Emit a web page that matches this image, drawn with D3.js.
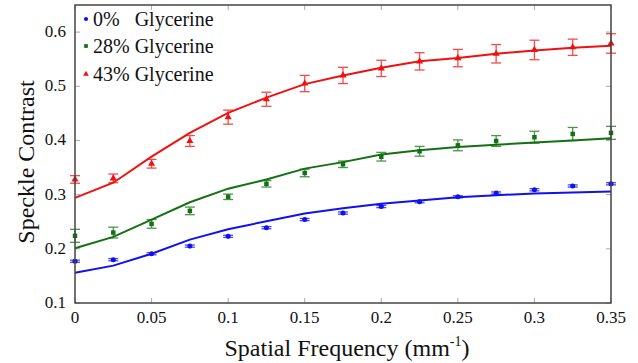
<!DOCTYPE html>
<html><head><meta charset="utf-8">
<script src="https://cdn.jsdelivr.net/npm/d3@7"></script>
<style>svg text, svg tspan { font-family: "Times New Roman", Tinos, "Liberation Serif", serif !important; }</style>
</head><body style="margin:0">
<svg id="c" width="638" height="363"></svg>
<script>
const freqs = [0,0.025,0.05,0.075,0.1,0.125,0.15,0.175,0.2,0.225,0.25,0.275,0.3,0.325,0.35];
const xTicks = [0,0.05,0.1,0.15,0.2,0.25,0.3,0.35];
const yTicks = [0.1,0.2,0.3,0.4,0.5,0.6];
const seriesNames = ["0%\u00a0\u00a0 Glycerine","28% Glycerine","43% Glycerine"];
const seriesColors = ["#1010f0","#137013","#f01010"];
const blueMeas = [0.177,0.180,0.191,0.205,0.223,0.239,0.254,0.266,0.278,0.287,0.296,0.303,0.309,0.316,0.320];
const blueErr  = [0.002,0.002,0.002,0.002,0.002,0.002,0.002,0.002,0.002,0.002,0.002,0.002,0.002,0.002,0.002];
const blueFit  = [0.156,0.169,0.191,0.217,0.236,0.251,0.265,0.275,0.283,0.289,0.295,0.299,0.302,0.304,0.306];
const greenMeas = [0.224,0.230,0.246,0.270,0.296,0.320,0.340,0.356,0.370,0.380,0.391,0.399,0.406,0.412,0.414];
const greenErr  = [0.012,0.010,0.008,0.007,0.005,0.006,0.007,0.006,0.008,0.009,0.010,0.010,0.011,0.012,0.012];
const greenFit  = [0.201,0.222,0.254,0.286,0.311,0.328,0.348,0.360,0.374,0.382,0.388,0.392,0.396,0.400,0.404];
const redMeas = [0.328,0.330,0.357,0.399,0.443,0.476,0.505,0.520,0.533,0.546,0.552,0.560,0.567,0.572,0.579];
const redErr  = [0.007,0.008,0.008,0.010,0.013,0.013,0.015,0.015,0.015,0.016,0.016,0.017,0.018,0.015,0.018];
const redFit  = [0.294,0.322,0.370,0.414,0.451,0.479,0.504,0.520,0.534,0.546,0.552,0.560,0.566,0.571,0.575];

const svg = d3.select("#c");
const L=75,R=611,T=5,B=303;
const x = d3.scaleLinear().domain([0,0.35]).range([L,R]);
const y = d3.scaleLinear().domain([0.1,0.65]).range([B,T]);
function txt(sel){ return sel.attr("font-family","Times New Roman").attr("fill","#111"); }

// ticks inside (gray)
const tg = svg.append("g").attr("stroke","#aaa").attr("stroke-width",1);
xTicks.forEach(t=>{
  tg.append("line").attr("x1",x(t)).attr("x2",x(t)).attr("y1",B).attr("y2",B-5);
  tg.append("line").attr("x1",x(t)).attr("x2",x(t)).attr("y1",T).attr("y2",T+5);
});
yTicks.forEach(t=>{
  tg.append("line").attr("x1",L).attr("x2",L+5).attr("y1",y(t)).attr("y2",y(t));
  tg.append("line").attr("x1",R).attr("x2",R-5).attr("y1",y(t)).attr("y2",y(t));
});

// tick labels
xTicks.forEach(d=>{
  txt(svg.append("text")).attr("x",x(d)).attr("y",B+20).attr("text-anchor","middle").attr("font-size",17).text(d3.format("~g")(d));
});
yTicks.forEach(d=>{
  txt(svg.append("text")).attr("x",L-9).attr("y",y(d)+5).attr("text-anchor","end").attr("font-size",17).text(d3.format(".1f")(d));
});

// axis titles
txt(svg.append("text")).attr("transform",`translate(34,${(T+B)/2+8}) rotate(-90)`).attr("text-anchor","middle")
  .attr("font-size",24).text("Speckle Contrast");
const xt = txt(svg.append("text")).attr("x",(L+R)/2+4).attr("y",356).attr("text-anchor","middle").attr("font-size",24);
xt.append("tspan").text("Spatial Frequency (mm");
xt.append("tspan").attr("font-size",14).attr("dy",-10).text("-1");
xt.append("tspan").attr("dy",10).text(")");

const series = [
  {meas:blueMeas, err:blueErr, fit:blueFit, sym:d3.symbolCircle, size:20, lsize:14},
  {meas:greenMeas, err:greenErr, fit:greenFit, sym:d3.symbolSquare, size:20, lsize:14},
  {meas:redMeas, err:redErr, fit:redFit, sym:d3.symbolTriangle, size:22, lsize:14}
];
const line = d3.line().x((d,i)=>x(freqs[i])).y(d=>y(d));
series.forEach((s,k)=>{
  const col = seriesColors[k];
  const g = svg.append("g");
  g.append("path").datum(s.fit).attr("d",line).attr("fill","none").attr("stroke",col).attr("stroke-width",2);
  const eg = g.append("g").attr("stroke",col).attr("stroke-width",1.3).attr("opacity",0.75);
  s.meas.forEach((v,i)=>{
    const cx=x(freqs[i]), y1=y(v-s.err[i]), y2=y(v+s.err[i]);
    eg.append("line").attr("x1",cx).attr("x2",cx).attr("y1",y1).attr("y2",y2);
    eg.append("line").attr("x1",cx-5).attr("x2",cx+5).attr("y1",y1).attr("y2",y1);
    eg.append("line").attr("x1",cx-5).attr("x2",cx+5).attr("y1",y2).attr("y2",y2);
  });
  g.selectAll("path.m").data(s.meas).join("path").attr("class","m")
    .attr("transform",(d,i)=>`translate(${x(freqs[i])},${y(d)})`)
    .attr("d",d3.symbol().type(s.sym).size(s.size)).attr("fill",col);
});

// frame
svg.append("rect").attr("x",L).attr("y",T).attr("width",R-L).attr("height",B-T)
  .attr("fill","none").attr("stroke","#444").attr("stroke-width",1.5);

// legend
const ly=[20,47,75];
series.forEach((s,k)=>{
  svg.append("path").attr("transform",`translate(86,${ly[k]-1})`)
    .attr("d",d3.symbol().type(s.sym).size(s.lsize)).attr("fill",seriesColors[k]);
  txt(svg.append("text")).attr("x",93).attr("y",ly[k]+6).attr("font-size",20).text(seriesNames[k]);
});
</script></body></html>
